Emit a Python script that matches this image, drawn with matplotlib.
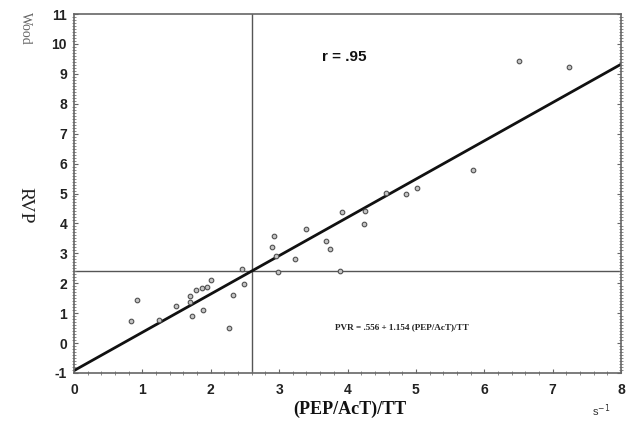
import matplotlib
matplotlib.use("Agg")
import matplotlib.pyplot as plt
import numpy as np
from matplotlib.ticker import MultipleLocator

plt.rcParams["axes.unicode_minus"] = False

# data
pep_act_tt = [0.83, 0.92, 1.24, 1.49, 1.70, 1.70, 1.73, 1.79, 1.87, 1.94, 2.01, 1.89,
              2.26, 2.32, 2.46, 2.48, 2.93, 2.90, 2.95, 2.99, 3.23, 3.39, 3.68, 3.75,
              3.89, 3.92, 4.24, 4.25, 4.56, 4.86, 5.02, 5.84, 6.51, 7.24]
rvp = [0.74, 1.43, 0.77, 1.23, 1.57, 1.37, 0.90, 1.77, 1.83, 1.88, 2.10, 1.10,
       0.52, 1.60, 2.49, 1.96, 3.58, 3.20, 2.91, 2.36, 2.80, 3.80, 3.42, 3.13,
       2.41, 4.39, 3.98, 4.41, 5.02, 4.97, 5.20, 5.78, 9.44, 9.24]
fit_intercept = -0.92
fit_slope = 1.28
cut_x = 2.6
cut_y = 2.42
x_ticks = [0, 1, 2, 3, 4, 5, 6, 7, 8]
y_ticks = [-1, 0, 1, 2, 3, 4, 5, 6, 7, 8, 9, 10, 11]

fig = plt.figure(figsize=(6.31, 4.26), dpi=100)
ax = fig.add_axes([74/631, 1-373/426, (621-74)/631, (373-14)/426])

ax.set_xlim(0, 8)
ax.set_ylim(-1, 11)

ax.axvline(cut_x, color="#555555", lw=1.0, zorder=1)
ax.axhline(cut_y, color="#555555", lw=1.0, zorder=1)

xl = np.array([0, 8])
ax.plot(xl, fit_intercept + fit_slope * xl, color="#111111", lw=2.0, zorder=2)

ax.scatter(pep_act_tt, rvp, s=11, facecolor="#c4c4c4", edgecolor="#505050",
           linewidths=0.8, zorder=3)

ax.set_xticks(x_ticks)
ax.set_yticks(y_ticks)
ax.xaxis.set_minor_locator(MultipleLocator(0.2))
ax.yaxis.set_minor_locator(MultipleLocator(0.1))
ax.tick_params(which="major", direction="in", length=3, width=0.8, color="#666666",
               labelsize=10, pad=5, right=True)
ax.tick_params(axis="x", which="major", pad=7)
ax.tick_params(which="minor", direction="inout", length=3, width=0.6, color="#777777",
               right=True)
for lab in ax.get_xticklabels() + ax.get_yticklabels():
    lab.set_fontweight("bold")
    lab.set_fontfamily("Liberation Sans")
    lab.set_color("#222222")

for sp in ax.spines.values():
    sp.set_color("#666666")
    sp.set_linewidth(1.2)

ax.text(3.63, 9.55, "r = .95", fontsize=11, fontweight="bold", family="Liberation Sans",
        va="center", ha="left", color="#111111")
ax.text(3.82, 0.54, "PVR = .556 + 1.154 (PEP/AcT)/TT", fontsize=6.6, fontweight="bold",
        family="Liberation Serif", va="center", ha="left", color="#222222")

fig.text(350/631, 1-409/426, "(PEP/AcT)/TT", fontsize=13, fontweight="bold",
         family="Liberation Serif", ha="center", va="center", color="#111111")
fig.text(601/631, 1-411/426, "s$^{-1}$", fontsize=8, family="Liberation Sans",
         ha="center", va="center", color="#333333")
fig.text(25/631, 1-205/426, "RVP", fontsize=14, family="Liberation Serif",
         rotation=270, ha="center", va="center", color="#222222")
fig.text(25/631, 1-28/426, "Wood", fontsize=10, family="Liberation Serif",
         rotation=270, ha="center", va="center", color="#666666")

fig.savefig("out.png", dpi=100)
